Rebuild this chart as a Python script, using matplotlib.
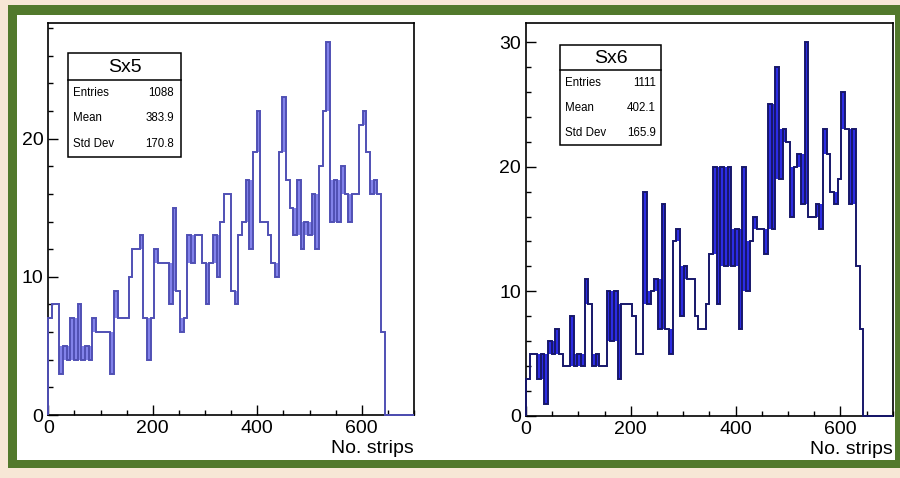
import numpy as np
import matplotlib
matplotlib.use("Agg")
import matplotlib.pyplot as plt
from matplotlib.patches import Rectangle
from matplotlib.lines import Line2D
from matplotlib.ticker import MultipleLocator

plt.rcParams['font.family'] = ['Liberation Sans', 'DejaVu Sans']

# ---------------- data ----------------
x_range = (0, 700)
n_bins = 100
x_title = "No. strips"

sx5_name = "Sx5"
sx5_counts = [
    7, 8, 8, 3, 5, 4, 7, 4, 8, 4,
    5, 4, 7, 6, 6, 6, 6, 3, 9, 7,
    7, 7, 10, 12, 12, 13, 7, 4, 7, 12,
    11, 11, 11, 8, 15, 9, 6, 7, 13, 11,
    13, 13, 11, 8, 11, 13, 10, 14, 16, 16,
    9, 8, 13, 14, 17, 12, 19, 22, 14, 14,
    13, 11, 10, 19, 23, 17, 15, 13, 17, 12,
    14, 13, 16, 12, 18, 22, 27, 14, 17, 14,
    18, 16, 14, 16, 16, 21, 22, 19, 16, 17,
    16, 6, 0, 0, 0, 0, 0, 0, 0, 0,
]
sx5_stat_labels = ["Entries", "Mean", "Std Dev"]
sx5_stat_values = ["1088", "383.9", "170.8"]

sx6_name = "Sx6"
sx6_counts = [
    3, 5, 5, 3, 5, 1, 6, 5, 7, 5,
    4, 4, 8, 4, 5, 4, 11, 9, 4, 5,
    4, 4, 10, 6, 10, 3, 9, 9, 9, 8,
    5, 5, 18, 9, 10, 11, 7, 17, 7, 5,
    14, 15, 8, 12, 11, 11, 8, 7, 7, 9,
    13, 20, 9, 20, 12, 20, 12, 15, 7, 20,
    10, 14, 16, 15, 15, 13, 25, 15, 28, 19,
    23, 22, 16, 20, 21, 17, 30, 16, 16, 17,
    15, 23, 21, 18, 17, 19, 26, 23, 17, 23,
    12, 7, 0, 0, 0, 0, 0, 0, 0, 0,
]
sx6_stat_labels = ["Entries", "Mean", "Std Dev"]
sx6_stat_values = ["1111", "402.1", "165.9"]

# ---------------- layout / style ----------------
W, H = 900, 478
BG = "#f7e7d6"
GREEN = "#52792c"


def fx(px):
    return px / W


def fy(py):
    return 1 - py / H


fig = plt.figure(figsize=(W / 100, H / 100), dpi=100, facecolor=BG)

# green frame with white inside
fig.add_artist(Rectangle((fx(8), fy(468)), fx(910) - fx(8), fy(5) - fy(468),
                         transform=fig.transFigure, facecolor=GREEN,
                         edgecolor="none", zorder=0))
fig.add_artist(Rectangle((fx(17), fy(460)), fx(895) - fx(17), fy(15) - fy(460),
                         transform=fig.transFigure, facecolor="white",
                         edgecolor="none", zorder=0))

panels = [
    dict(name=sx5_name, counts=sx5_counts, labels=sx5_stat_labels,
         values=sx5_stat_values, ax_px=(48.3, 23.3, 414.0, 415.0),
         line="#5050b4", fill="#8282ea",
         box=dict(x0=68, x1=181, y0=53, y1=157, ysep=80,
                  rows=(93, 118, 144), lx=73, rx=174)),
    dict(name=sx6_name, counts=sx6_counts, labels=sx6_stat_labels,
         values=sx6_stat_values, ax_px=(526.0, 23.3, 892.7, 416.0),
         line="#17176a", fill="#2c2ce4",
         box=dict(x0=560, x1=661, y0=45, y1=145, ysep=70,
                  rows=(83, 108, 133), lx=565, rx=656)),
]

edges = np.linspace(x_range[0], x_range[1], n_bins + 1)

for p in panels:
    x0, y0, x1, y1 = p["ax_px"]
    ax = fig.add_axes([fx(x0), fy(y1), fx(x1) - fx(x0), fy(y0) - fy(y1)])
    ax.set_facecolor("white")

    v = np.asarray(p["counts"], dtype=float)
    left = np.r_[0.0, v[:-1]]
    right = np.r_[v[1:], 0.0]
    lo = np.maximum(np.minimum(left, v), np.minimum(right, v))
    hi = np.minimum(np.maximum(left, v), np.maximum(right, v))
    hi = np.maximum(hi, lo)

    ax.stairs(hi, edges, baseline=lo, fill=True, color=p["fill"], lw=0,
              zorder=2)
    ax.stairs(v, edges, baseline=0, color=p["line"], lw=1.4, zorder=3,
              clip_on=False)

    ax.set_xlim(*x_range)
    ax.set_ylim(0, 1.05 * v.max())
    ax.xaxis.set_major_locator(MultipleLocator(200))
    ax.xaxis.set_minor_locator(MultipleLocator(50))
    ax.yaxis.set_major_locator(MultipleLocator(10))
    ax.yaxis.set_minor_locator(MultipleLocator(2))
    ax.tick_params(which="both", direction="in", top=False, right=False,
                   width=1.0, labelsize=14, pad=3.6)
    ax.tick_params(which="major", length=7.2)
    ax.tick_params(which="minor", length=3.6)
    for s in ax.spines.values():
        s.set_linewidth(1.2)

    ax.annotate(x_title, xy=(1, 0), xycoords="axes fraction",
                xytext=(0, -25), textcoords="offset pixels",
                ha="right", va="top", fontsize=14)

    b = p["box"]
    fig.add_artist(Rectangle((fx(b["x0"]), fy(b["y1"])),
                             fx(b["x1"]) - fx(b["x0"]),
                             fy(b["y0"]) - fy(b["y1"]),
                             transform=fig.transFigure, facecolor="white",
                             edgecolor="black", lw=1.1, zorder=5))
    fig.add_artist(Line2D([fx(b["x0"]), fx(b["x1"])], [fy(b["ysep"])] * 2,
                          transform=fig.transFigure, color="black", lw=1.1,
                          zorder=6))
    fig.text(fx((b["x0"] + b["x1"]) / 2), fy((b["y0"] + b["ysep"]) / 2 + 1),
             p["name"], ha="center", va="center", fontsize=14, zorder=7)
    for lab, val, ry in zip(p["labels"], p["values"], b["rows"]):
        fig.text(fx(b["lx"]), fy(ry), lab, ha="left", va="center",
                 fontsize=8.3, zorder=7)
        fig.text(fx(b["rx"]), fy(ry), val, ha="right", va="center",
                 fontsize=8.3, zorder=7)

fig.savefig("out.png", dpi=100, facecolor=BG)
